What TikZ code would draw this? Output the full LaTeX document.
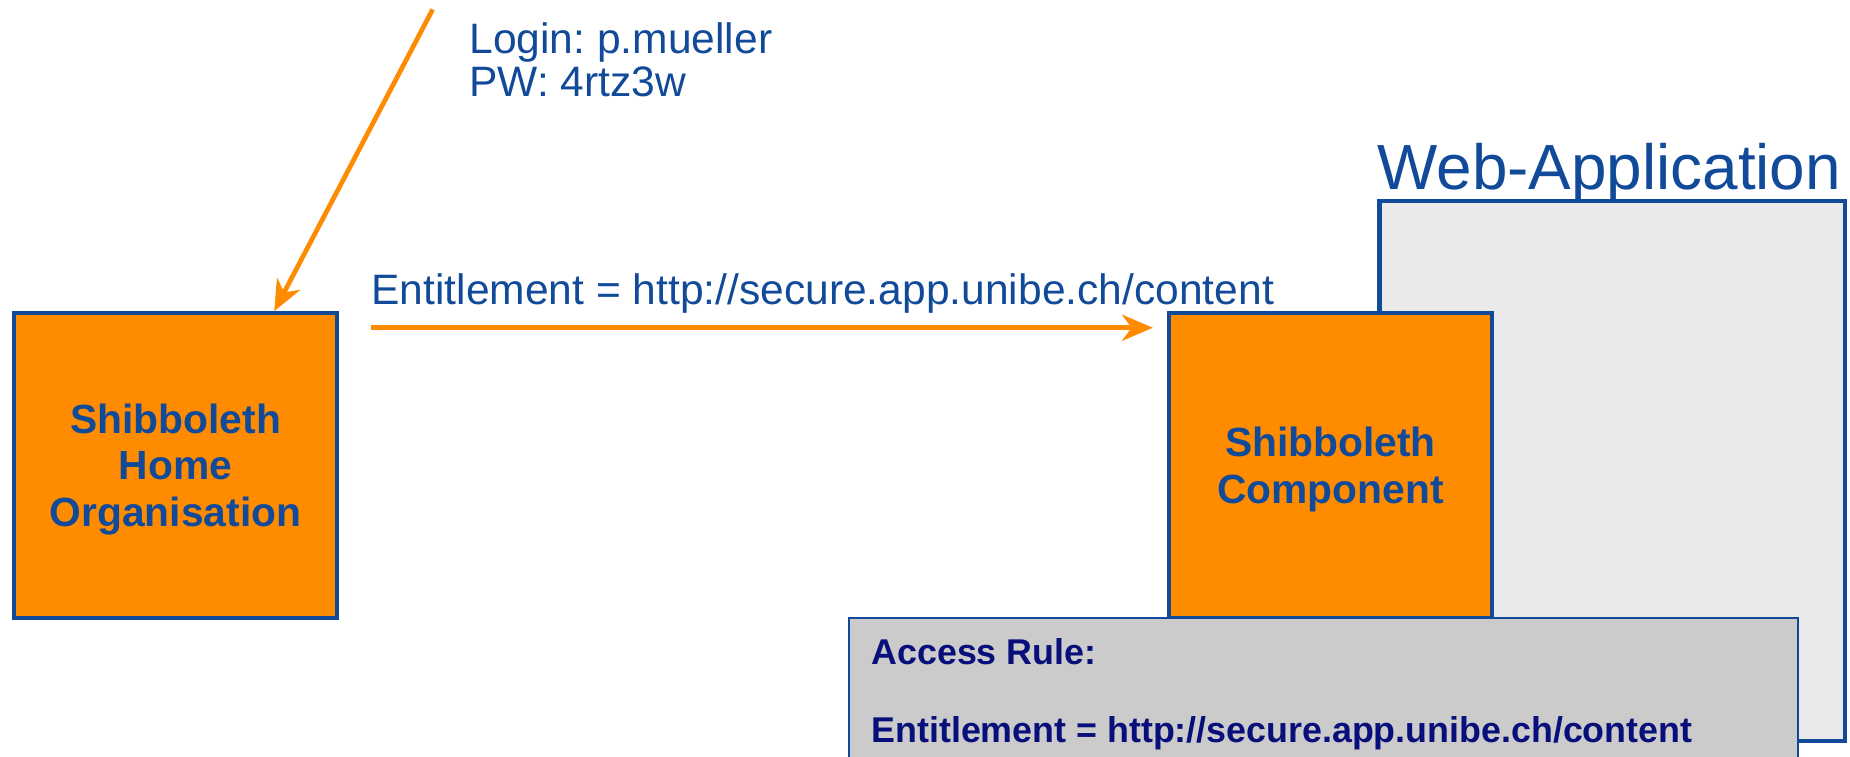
\documentclass[tikz,border=0pt]{standalone}
\usepackage{fontspec}
\setmainfont{Liberation Sans}
\frenchspacing
\usetikzlibrary{arrows.meta,calc}
\definecolor{ublue}{RGB}{18,74,154}
\definecolor{uorange}{RGB}{255,140,0}
\definecolor{webgray}{RGB}{234,234,234}
\definecolor{accgray}{RGB}{203,203,203}
\definecolor{accnavy}{RGB}{8,14,122}
\begin{document}
\begin{tikzpicture}[x=1pt,y=-1pt,
  orgbox/.style={draw=ublue, line width=3.5pt, fill=uorange, minimum width=273pt, minimum height=258pt, inner sep=0pt},
  orglbl/.style={inner sep=0pt, text=ublue, align=center, font=\fontsize{34.5}{39.5}\selectfont\bfseries},
  webbox/.style={draw=ublue, line width=3.5pt, fill=webgray, minimum width=394pt, minimum height=457pt, inner sep=0pt},
  accbox/.style={draw=ublue, line width=2pt, fill=accgray, minimum width=803pt, minimum height=200pt, inner sep=0pt},
  arr/.style={draw=uorange, line width=4pt, -{Stealth[length=26pt,width=22pt,inset=8pt]}},
  lbl/.style={text=ublue, inner sep=0pt, anchor=base west, font=\fontsize{36}{40}\selectfont},
  biglbl/.style={text=ublue, inner sep=0pt, anchor=base west, font=\fontsize{54}{60}\selectfont},
  acclbl/.style={text=accnavy, inner sep=0pt, anchor=base west, font=\fontsize{30.3}{33}\selectfont\bfseries}
]
\useasboundingbox (0,0) rectangle (1565,640);
\begin{scope}
\clip (0,0) rectangle (1565,640);
% web application
\node[webbox] (web) at (1364,398.5) {};
\node[biglbl] (webl) at (1165,160) {Web-Application};
% shibboleth boxes
\node[orgbox] (sc) at (1125.5,394) {};
\node[orglbl] (scl) at (1125.5,397) {Shibboleth\\Component};
\node[orgbox] (ho) at (148.5,394) {};
\node[orglbl] (hol) at (148.5,397) {Shibboleth\\Home\\Organisation};
% arrows
\coordinate (src) at (366,8);
\draw[arr] (src) -- ([xshift=83.5pt]ho.north);
\draw[arr] ($(ho.north east)+(27,14)$) -- ($(sc.north west)+(-12,14)$);
\node[lbl] (ent) at (314,258) {Entitlement = http://secure.app.unibe.ch/content};
% login
\node[lbl] (login) at (397,45) {Login: p.mueller};
\node[lbl] (pw) at (397,82) {PW: 4rtz3w};
% access rule
\node[accbox, anchor=north west] (acc) at (717,522) {};
\node[acclbl] (accr) at (737,562) {Access Rule:};
\node[acclbl] (acce) at (737,628) {Entitlement = http://secure.app.unibe.ch/content};
\end{scope}
\end{tikzpicture}
\end{document}
